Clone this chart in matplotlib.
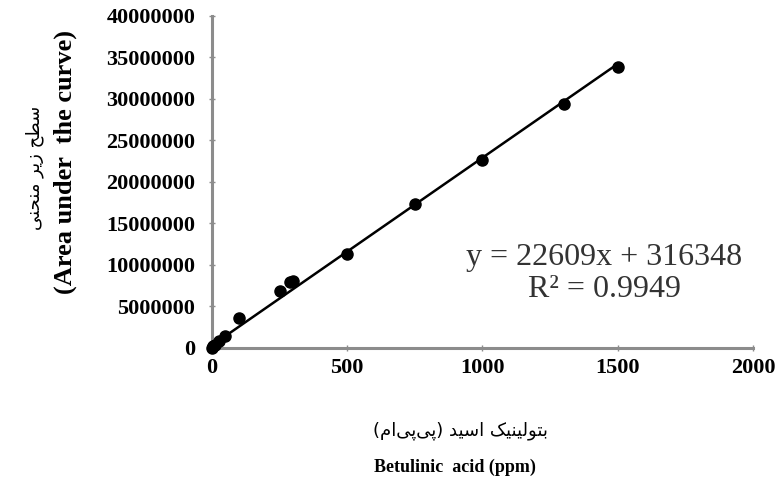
import numpy as np
import matplotlib
matplotlib.use("Agg")
import matplotlib.pyplot as plt

# داده ها (غلظت / سطح زیر منحنی)
conc = [0, 5, 10, 25, 50, 100, 250, 290, 300, 500, 750, 1000, 1300, 1500]
area = [50000, 200000, 400000, 800000, 1400000, 3600000, 6900000, 7900000,
        8100000, 11300000, 17300000, 22600000, 29400000, 33800000]

slope = 22609
intercept = 316348
r2 = 0.9949

x_ticks = [0, 500, 1000, 1500, 2000]
y_ticks = [0, 5000000, 10000000, 15000000, 20000000, 25000000, 30000000, 35000000, 40000000]

# متن فارسی به صورت شکل های نمایشی و ترتیب دیداری (چپ به راست)
fa_ylabel = ("\uFEF0\uFEE8\uFEA4\uFEE8\uFEE3" + " " +
             "\uFEAE\uFEF3\uFEAF" + " " +
             "\uFEA2\uFEC4\uFEB3")
fa_xlabel = ("(" + "\uFEE1\uFE8D" + "\uFEF0\uFB58" + "\uFEF0\uFB58" + ")" + " " +
             "\uFEAA\uFEF4\uFEB3\uFE8D" + " " +
             "\uFB8F\uFEF4\uFEE8\uFEF4\uFEDF\uFEEE\uFE98\uFE91")

serif = ["Liberation Serif", "DejaVu Serif"]

fig = plt.figure(figsize=(7.77, 4.79), dpi=100)
ax = fig.add_axes([0.2728, 0.2735, 0.6963, 0.6931])

ax.plot(conc, area, "o", color="black", markersize=8, clip_on=False, zorder=3)
xl = np.array([0, max(conc)])
ax.plot(xl, slope * xl + intercept, color="black", linewidth=1.8, zorder=2)

ax.set_xlim(0, 2000)
ax.set_ylim(0, 40000000)
ax.set_xticks(x_ticks)
ax.set_yticks(y_ticks)
ax.set_xticklabels([str(t) for t in x_ticks])
ax.set_yticklabels([str(t) for t in y_ticks])

for s in ["top", "right"]:
    ax.spines[s].set_visible(False)
for s in ["left", "bottom"]:
    ax.spines[s].set_color("#8c8c8c")
    ax.spines[s].set_linewidth(2.2)

ax.tick_params(axis="both", direction="inout", length=4, width=1, color="#8c8c8c")
ax.tick_params(axis="y", pad=10)
ax.tick_params(axis="x", pad=5)
for lab in ax.get_xticklabels() + ax.get_yticklabels():
    lab.set_fontfamily(serif)
    lab.set_fontweight("bold")
    lab.set_fontsize(16)

ax.text(1450, 10900000, "y = 22609x + 316348", family=serif, fontsize=23,
        ha="center", va="center", color="#333333")
ax.text(1450, 7000000, "R\u00b2 = 0.9949", family=serif, fontsize=23,
        ha="center", va="center", color="#333333")

# عنوان محورها
fig.text(35 / 777, 1 - 168 / 479, fa_ylabel, family=["DejaVu Sans"], fontsize=13,
         rotation=90, ha="center", va="center")
fig.text(65 / 777, 1 - 162 / 479, "(Area under  the curve)", family=serif,
         fontweight="bold", fontsize=19, rotation=90, ha="center", va="center")
fig.text(460 / 777, 1 - 431 / 479, fa_xlabel, family=["DejaVu Sans"], fontsize=13,
         ha="center", va="center")
fig.text(455 / 777, 1 - 467 / 479, "Betulinic  acid (ppm)", family=serif,
         fontweight="bold", fontsize=13, ha="center", va="center")

fig.savefig("out.png", dpi=100)
